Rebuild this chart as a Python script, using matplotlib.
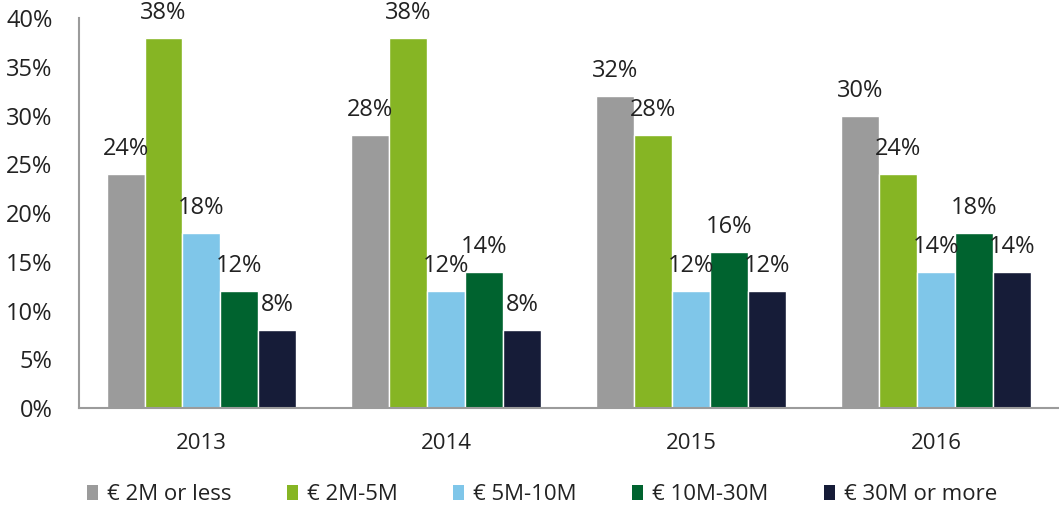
import matplotlib.pyplot as plt
import numpy as np
from matplotlib.patches import Patch

plt.rcParams["font.family"] = ["Open Sans", "DejaVu Sans"]

years = ["2013", "2014", "2015", "2016"]
series_names = ["€ 2M or less", "€ 2M-5M", "€ 5M-10M", "€ 10M-30M", "€ 30M or more"]
colors = ["#9b9b9b", "#86b524", "#7fc6e9", "#00632f", "#161c38"]

two_m_or_less = [24, 28, 32, 30]
two_to_five = [38, 38, 28, 24]
five_to_ten = [18, 12, 12, 14]
ten_to_thirty = [12, 14, 16, 18]
thirty_or_more = [8, 8, 12, 14]
values = [two_m_or_less, two_to_five, five_to_ten, ten_to_thirty, thirty_or_more]

fig = plt.figure(figsize=(10.59, 5.09), dpi=100)
ax = fig.add_axes([0.0746, 0.1984, 0.925, 0.7662])

x = np.arange(len(years))
width = 0.155
text_color = "#222222"

for i, (name, vals) in enumerate(zip(series_names, values)):
    offset = (i - 2) * width
    bars = ax.bar(x + offset, vals, width, color=colors[i], edgecolor="white",
                  linewidth=1, label=name)
    for bar, v in zip(bars, vals):
        ax.text(bar.get_x() + bar.get_width() / 2, v + 1.3, f"{v}%",
                ha="center", va="bottom", fontsize=17, color=text_color)

ax.set_xlim(-0.5, 3.5)
ax.set_ylim(0, 40)
ax.set_yticks(range(0, 41, 5))
ax.set_yticklabels([f"{t}%" for t in range(0, 41, 5)])
ax.set_xticks(x)
ax.set_xticklabels(years)
ax.tick_params(length=0, labelsize=17, colors=text_color)
ax.tick_params(axis="x", pad=18, labelsize=16)
ax.tick_params(axis="y", pad=19)

for s in ["top", "right"]:
    ax.spines[s].set_visible(False)
for s in ["left", "bottom"]:
    ax.spines[s].set_color("#9b9b9b")
    ax.spines[s].set_linewidth(1.5)

handles = [Patch(facecolor=c, label=n) for c, n in zip(colors, series_names)]
fig.legend(handles=handles, loc="center", bbox_to_anchor=(0.512, 0.028), ncol=5,
           frameon=False, fontsize=16, handlelength=0.5, handleheight=0.7,
           handletextpad=0.4, columnspacing=2.5, labelcolor=text_color)

fig.savefig("out.png", dpi=100)
